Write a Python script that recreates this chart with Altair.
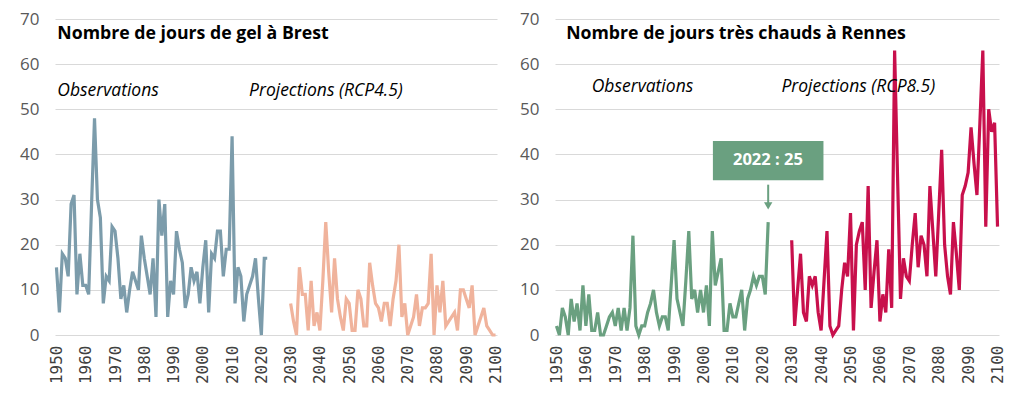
import altair as alt
import pandas as pd

# ---------------- data ----------------
brest_obs_years = list(range(1950, 2023))
brest_obs = [15, 5, 18, 17, 13, 29, 31, 9, 18, 11,
             11, 9, 29, 48, 30, 26, 7, 13, 12, 24,
             23, 17, 8, 11, 5, 10, 14, 12, 10, 22,
             17, 13, 9, 17, 4, 30, 22, 29, 4, 12,
             9, 23, 19, 16, 6, 9, 15, 12, 14, 7,
             15, 21, 5, 18, 17, 23, 23, 13, 19, 19,
             44, 7, 15, 13, 3, 9, 11, 13, 17, 8,
             0, 17, 17]

brest_proj_years = list(range(2030, 2101))
brest_proj = [7, 3, 0, 15, 9, 9, 1, 12, 2, 5,
              1, 12, 25, 14, 5, 17, 8, 4, 1, 8,
              7, 1, 1, 10, 8, 2, 2, 16, 11, 7,
              6, 3, 7, 7, 2, 8, 12, 20, 4, 7,
              0, 2, 4, 9, 2, 6, 6, 7, 18, 0,
              11, 5, 12, 2, 3, 4, 5, 1, 10, 10,
              8, 6, 11, 0, 2, 4, 6, 2, 1, 0,
              0]

rennes_obs_years = list(range(1950, 2023))
rennes_obs = [2, 0, 6, 4, 0, 8, 3, 7, 1, 11,
              2, 9, 1, 1, 5, 0, 0, 2, 4, 5,
              2, 6, 1, 6, 1, 6, 22, 2, 0, 2,
              2, 5, 7, 10, 5, 2, 4, 4, 1, 11,
              21, 8, 5, 2, 12, 23, 8, 10, 5, 10,
              5, 11, 2, 23, 11, 14, 17, 1, 1, 7,
              4, 4, 7, 10, 1, 8, 10, 13, 11, 13,
              13, 9, 25]

rennes_proj_years = list(range(2030, 2101))
rennes_proj = [21, 2, 10, 18, 5, 3, 13, 11, 13, 5,
               1, 12, 23, 2, 0, 1, 2, 10, 16, 13,
               27, 1, 20, 23, 25, 10, 33, 6, 14, 21,
               3, 9, 5, 19, 6, 63, 35, 8, 17, 13,
               12, 20, 27, 15, 22, 20, 13, 33, 23, 13,
               27, 41, 20, 13, 9, 25, 18, 10, 31, 33,
               36, 46, 38, 31, 47, 63, 24, 50, 45, 47,
               24]

x_ticks = [1950, 1960, 1970, 1980, 1990, 2000, 2010, 2020,
           2030, 2040, 2050, 2060, 2070, 2080, 2090, 2100]
y_ticks = [0, 10, 20, 30, 40, 50, 60, 70]

annot_year = 2022
annot_value = 25

# ---------------- styling ----------------
C_BLUE = "#7c9cab"
C_ORANGE = "#f0b39c"
C_GREEN = "#6aa080"
C_RED = "#c8104c"
FONT = "Open Sans"
W, H = 442, 316

xscale = alt.Scale(domain=[1949.5, 2100.5], nice=False, zero=False)
yscale = alt.Scale(domain=[0, 70], nice=False)

xaxis = alt.Axis(values=x_ticks, labelAngle=270, grid=False, ticks=False, tickSize=0,
                 domain=False, title=None, labelFont="DejaVu Sans Mono", labelFontSize=16,
                 labelColor="#404040", labelPadding=10, format="d", labelFlush=False,
                 labelOverlap=False, labelSeparation=0, labelAlign="right",
                 labelBaseline="middle", labelBound=False)
yaxis = alt.Axis(values=y_ticks, grid=True, gridColor="#d9d9d9", gridWidth=1.2,
                 ticks=False, tickSize=0, domain=False, title=None, labelFont=FONT,
                 labelFontSize=17, labelColor="#595959", labelPadding=16)


def series(years, vals, color):
    df = pd.DataFrame({"year": years, "v": vals})
    return alt.Chart(df).mark_line(color=color, strokeWidth=3.2, strokeJoin="miter").encode(
        x=alt.X("year:Q", scale=xscale, axis=xaxis),
        y=alt.Y("v:Q", scale=yscale, axis=yaxis),
    )


def label(x, y, txt, bold=False, italic=False, size=16, color="black"):
    kw = dict(align="left", baseline="middle", font=FONT, fontSize=size, color=color)
    if bold:
        kw["fontWeight"] = "bold"
    if italic:
        kw["fontStyle"] = "italic"
    return alt.Chart().mark_text(**kw).encode(
        x=alt.XDatum(x, scale=xscale, axis=xaxis),
        y=alt.YDatum(y, scale=yscale, axis=yaxis),
        text=alt.value(txt),
    )


left = alt.layer(
    series(brest_obs_years, brest_obs, C_BLUE),
    series(brest_proj_years, brest_proj, C_ORANGE),
    label(1950.3, 66.6, "Nombre de jours de gel à Brest", bold=True, size=17.7),
    label(1950.3, 54.0, "Observations", italic=True, size=17.5),
    label(2015.8, 54.0, "Projections (RCP4.5)", italic=True, size=17.5),
).properties(width=W, height=H)

box_df = pd.DataFrame({"x1": [2003.2], "x2": [2040.8], "y1": [34.3], "y2": [43.0]})
box = alt.Chart(box_df).mark_rect(color=C_GREEN).encode(
    x=alt.X("x1:Q", scale=xscale, axis=xaxis), x2="x2:Q",
    y=alt.Y("y1:Q", scale=yscale, axis=yaxis), y2="y2:Q",
)
box_text = alt.Chart().mark_text(align="center", baseline="middle", font=FONT,
                                 fontSize=16.5, fontWeight="bold", color="white").encode(
    x=alt.XDatum(2021.9, scale=xscale, axis=xaxis),
    y=alt.YDatum(38.7, scale=yscale, axis=yaxis),
    text=alt.value(f"{annot_year} : {annot_value}"),
)
arrow_df = pd.DataFrame({"x": [annot_year], "y1": [33.3], "y2": [28.6]})
arrow_line = alt.Chart(arrow_df).mark_rule(color=C_GREEN, strokeWidth=2).encode(
    x=alt.X("x:Q", scale=xscale, axis=xaxis),
    y=alt.Y("y1:Q", scale=yscale, axis=yaxis), y2="y2:Q"
)
arrow_head = alt.Chart(arrow_df).mark_point(shape="triangle-down", filled=True,
                                            color=C_GREEN, size=70, opacity=1).encode(
    x=alt.X("x:Q", scale=xscale, axis=xaxis), y=alt.Y("y2:Q", scale=yscale, axis=yaxis)
)

right = alt.layer(
    series(rennes_obs_years, rennes_obs, C_GREEN),
    series(rennes_proj_years, rennes_proj, C_RED),
    label(1953.3, 66.6, "Nombre de jours très chauds à Rennes", bold=True, size=17.7),
    label(1962.0, 55.0, "Observations", italic=True, size=17.5),
    label(2026.5, 55.0, "Projections (RCP8.5)", italic=True, size=17.5),
    box, box_text, arrow_line, arrow_head,
).properties(width=W + 2, height=H)

chart = alt.hconcat(left, right, spacing=58).properties(
    bounds="flush", padding={"left": 11, "top": 2, "right": 5, "bottom": 5}, background="white"
).configure_view(stroke=None).configure_axisX(labelOverlap=False)

chart.save("out.html", embed_options={"renderer": "svg", "actions": False})
